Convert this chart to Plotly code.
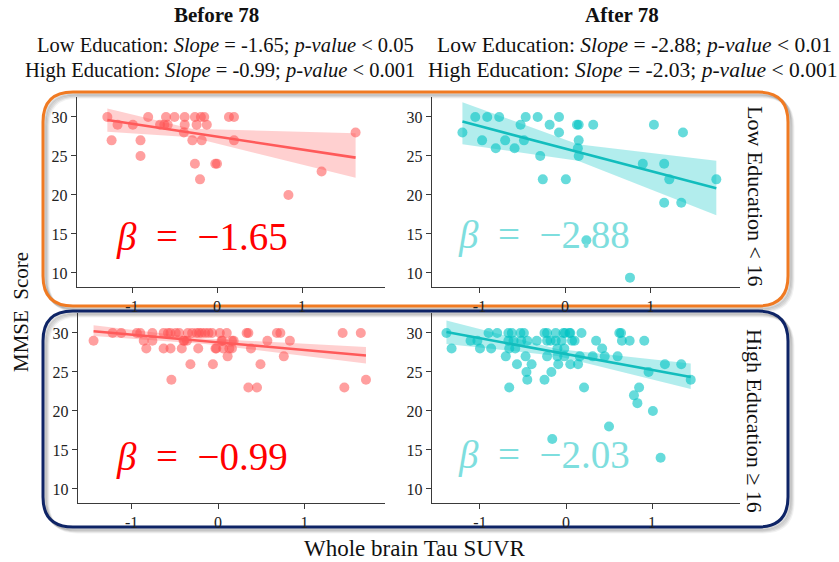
import plotly.graph_objects as go

W, H = 839, 562

# ---------------- data ----------------
# Before 78, Low Education
x_before_low = [-1.29, -1.24, -1.17, -0.99, -0.90, -0.90, -0.81, -0.67, -0.62, -0.60, -0.58, -0.50,
                -0.38, -0.38, -0.39, -0.29, -0.26, -0.24, -0.26, -0.20, -0.19, -0.18, -0.15, -0.12,
                -0.02, 0.00, 0.14, 0.20, 0.20, 0.84, 1.23, 1.63]
y_before_low = [30, 27, 29, 29, 27, 25, 30, 29, 29, 30, 29, 30,
                30, 29, 28, 27, 30, 29, 24, 22, 30, 27, 30, 29,
                24, 24, 30, 30, 27, 20, 23, 28]

# After 78, Low Education
x_after_low = [-1.20, -1.05, -0.97, -0.91, -0.81, -0.77, -0.70, -0.59, -0.52, -0.48, -0.46, -0.32,
               -0.29, -0.26, -0.18, -0.07, -0.07, 0.01, 0.14, 0.16, 0.16, 0.15, 0.16, 0.33,
               0.25, 0.76, 0.91, 1.04, 1.16, 1.16, 1.22, 1.36, 1.38, 1.77]
y_after_low = [28, 30, 27, 30, 26, 30, 27, 26, 29, 27, 30, 30,
               25, 22, 29, 28, 30, 22, 29, 29, 27, 26, 25, 29,
               14.2, 9.4, 24, 29, 24, 19, 22, 19, 28, 22]

# Before 78, High Education
x_before_high = [-1.44, -1.22, -1.12, -0.94, -0.90, -0.86, -0.83, -0.76, -0.76, -0.63, -0.63, -0.58,
                 -0.55, -0.54, -0.55, -0.49, -0.45, -0.42, -0.40, -0.39, -0.36, -0.35, -0.32, -0.30,
                 -0.25, -0.23, -0.22, -0.19, -0.15, -0.11, -0.07, -0.06, -0.03, -0.02, 0.02, 0.04,
                 0.05, 0.06, 0.10, 0.11, 0.13, 0.16, 0.16, 0.18, 0.33, 0.35, 0.35, 0.38,
                 0.45, 0.49, 0.57, 0.68, 0.72, 0.76, 0.83, 1.44, 1.46, 1.65, 1.71]
y_before_high = [29, 30, 30, 30, 30, 29, 28, 30, 29, 30, 28, 30,
                 28, 24, 30, 30, 30, 28, 29, 29, 29, 30, 26, 30,
                 30, 28, 30, 30, 30, 30, 30, 26, 28, 28, 30, 29,
                 29, 28, 30, 27, 28, 28, 29, 29, 30, 30, 23, 28,
                 23, 26, 29, 30, 30, 27, 29, 30, 23, 30, 24]

# After 78, High Education
x_after_high = [-1.39, -1.33, -1.11, -1.03, -1.00, -0.90, -0.87, -0.80, -0.70, -0.67, -0.63, -0.67,
                -0.66, -0.66, -0.61, -0.59, -0.57, -0.53, -0.49, -0.52, -0.47, -0.46, -0.45, -0.45,
                -0.40, -0.34, -0.25, -0.22, -0.25, -0.22, -0.18, -0.22, -0.17, -0.16, -0.12, -0.12,
                -0.10, -0.10, -0.09, -0.05, -0.03, -0.01, -0.02, -0.02, 0.04, 0.05, 0.05, 0.07,
                0.10, 0.14, 0.16, 0.18, 0.21, 0.31, 0.35, 0.42, 0.45, 0.50, 0.60, 0.62,
                0.64, 0.65, 0.74, 0.79, 0.83, 0.85, 0.91, 0.96, 1.01, 1.10, 1.15, 1.34, 1.45]
y_after_high = [30, 28, 29, 29, 28, 30, 28, 30, 27, 30, 30, 29,
                28, 23, 29, 28, 26, 30, 30, 29, 27, 25, 24, 29,
                26, 29, 30, 30, 24, 29, 29, 27, 25, 16.4, 30, 29,
                28, 27, 26, 29, 30, 30, 28, 27, 30, 30, 26, 29,
                29, 26, 27, 30, 23, 27, 29, 28, 27, 18, 27, 30,
                30, 29, 29, 22, 21, 23, 29, 25, 20, 14, 26, 26, 24]

# regression fits (slope from the header, intercept)
slopes = [-1.65, -2.88, -0.99, -2.03]
intercepts = [27.48, 25.95, 28.80, 27.30]
# confidence band edges read at left end, middle, right end
band_x = [[-1.29, -0.30, 1.63], [-1.20, 0.15, 1.77], [-1.44, -0.15, 1.71], [-1.39, -0.10, 1.45]]
band_hi = [[31.1, 28.5, 27.9], [31.9, 26.5, 24.4], [31.0, 29.3, 28.2], [31.6, 27.95, 26.1]]
band_lo = [[28.1, 27.4, 22.2], [26.5, 24.4, 17.4], [29.6, 28.6, 26.1], [28.6, 27.05, 22.8]]

beta_labels = ["−1.65", "−2.88", "−0.99", "−2.03"]
y_ticks = [10, 15, 20, 25, 30]
x_ticks = [-1, 0, 1]

# ---------------- styling ----------------
RED_PT = "rgba(255,80,80,0.55)"
RED_LINE = "#FF5A5A"
RED_BAND = "rgba(255,110,110,0.32)"
RED_TXT = "#FF0000"
CY_PT = "rgba(0,195,195,0.6)"
CY_LINE = "#12BDBD"
CY_BAND = "rgba(0,195,195,0.30)"
CY_TXT = "#7EDEDE"
SERIF = "Liberation Serif"


def px(x):
    return x / W


def py(y):
    return 1 - y / H


# panel geometry in pixels: (left, right, top, bottom), x range, y range
panels = [
    dict(box=(77, 385, 97, 287), xr=[-1.647, 1.976], yr=[8.2, 32.56]),
    dict(box=(432, 740, 97, 287), xr=[-1.556, 2.047], yr=[8.2, 32.56]),
    dict(box=(78, 385, 313, 503), xr=[-1.62, 1.93], yr=[8.2, 32.56]),
    dict(box=(432, 740, 313, 503), xr=[-1.558, 2.023], yr=[8.2, 32.56]),
]
data = [
    (x_before_low, y_before_low, "red"),
    (x_after_low, y_after_low, "cyan"),
    (x_before_high, y_before_high, "red"),
    (x_after_high, y_after_high, "cyan"),
]

fig = go.Figure()
layout_axes = {}
for i, (p, (xs, ys, col)) in enumerate(zip(panels, data)):
    n = i + 1
    xa = "x" if n == 1 else f"x{n}"
    ya = "y" if n == 1 else f"y{n}"
    pt = RED_PT if col == "red" else CY_PT
    ln = RED_LINE if col == "red" else CY_LINE
    bd = RED_BAND if col == "red" else CY_BAND

    bx = band_x[i]
    fig.add_trace(go.Scatter(x=bx + bx[::-1], y=band_hi[i] + band_lo[i][::-1], fill="toself",
                             fillcolor=bd, line=dict(width=0), mode="lines",
                             xaxis=xa, yaxis=ya, hoverinfo="skip", showlegend=False))
    fig.add_trace(go.Scatter(x=xs, y=ys, mode="markers",
                             marker=dict(size=10, color=pt, line=dict(width=0)),
                             xaxis=xa, yaxis=ya, showlegend=False))
    x0, x1 = min(xs), max(xs)
    fig.add_trace(go.Scatter(x=[x0, x1], y=[intercepts[i] + slopes[i] * x0, intercepts[i] + slopes[i] * x1],
                             mode="lines", line=dict(color=ln, width=2.6),
                             xaxis=xa, yaxis=ya, showlegend=False))

    l, r, t, b = p["box"]
    axis_common = dict(showgrid=False, zeroline=False, showline=True, linecolor="#3a3a3a",
                       linewidth=1.4, ticks="outside", ticklen=5, tickcolor="#3a3a3a",
                       tickwidth=1.2, tickfont=dict(family=SERIF, size=16, color="#222"))
    key_x = "xaxis" if n == 1 else f"xaxis{n}"
    key_y = "yaxis" if n == 1 else f"yaxis{n}"
    layout_axes[key_x] = dict(axis_common, domain=[px(l), px(r)], range=p["xr"], anchor=ya,
                              tickvals=x_ticks, ticktext=["-1", "0", "1"])
    layout_axes[key_y] = dict(axis_common, domain=[py(b), py(t)], range=p["yr"], anchor=xa,
                              tickvals=y_ticks)

fig.update_layout(**layout_axes)

annotations = []


def ann(text, x, y, size, color="#111", angle=0, family=SERIF, xanchor="center"):
    annotations.append(dict(text=text, x=px(x), y=py(y), xref="paper", yref="paper",
                            showarrow=False, textangle=angle, xanchor=xanchor, yanchor="middle",
                            font=dict(family=family, size=size, color=color)))


ann("<b>Before 78</b>", 216, 15, 21)
ann("<b>After 78</b>", 622, 15, 21)
ann("Low Education: <i>Slope</i> = -1.65; <i>p-value</i> &lt; 0.05", 225, 45, 20.5)
ann("High Education: <i>Slope</i> = -0.99; <i>p-value</i> &lt; 0.001", 220, 70, 20.5)
ann("Low Education: <i>Slope</i> = -2.88; <i>p-value</i> &lt; 0.01", 634, 45, 21.5)
ann("High Education: <i>Slope</i> = -2.03; <i>p-value</i> &lt; 0.001", 632, 70, 21.5)
ann("MMSE  Score", 21, 312, 21, angle=-90)
ann("Whole brain Tau SUVR", 415, 548, 23)
ann("Low Education &lt; 16", 756, 196, 22, angle=90)
ann("High Education ≥ 16", 755, 421, 22, angle=90)

beta_pos = [(202, 237), (544, 235), (202, 457), (544, 455)]
for i, (bxp, byp) in enumerate(beta_pos):
    color = RED_TXT if i % 2 == 0 else CY_TXT
    ann(f"<i>β</i>&nbsp;&nbsp;=&nbsp;&nbsp;{beta_labels[i]}", bxp, byp, 39, color=color)

fig.update_layout(annotations=annotations)


# rounded boxes with a soft shadow
def rounded(l, t, r, b, rad):
    rx, ry = rad / W, rad / H
    L, R, T, B = px(l), px(r), py(t), py(b)
    return (f"M {L + rx},{T} L {R - rx},{T} Q {R},{T} {R},{T - ry} "
            f"L {R},{B + ry} Q {R},{B} {R - rx},{B} L {L + rx},{B} Q {L},{B} {L},{B + ry} "
            f"L {L},{T - ry} Q {L},{T} {L + rx},{T} Z")


shapes = []
boxes = [((43, 92, 788, 306), "#F07A22"), ((43, 311, 788, 527), "#0E2466")]
for (l, t, r, b), c in boxes:
    for off, a in [(5, 0.05), (4, 0.07), (3, 0.09), (2, 0.11)]:
        shapes.append(dict(type="path", path=rounded(l + off, t + off, r + off, b + off, 30),
                           xref="paper", yref="paper", line=dict(color=f"rgba(0,0,0,{a})", width=3),
                           layer="below"))
    shapes.append(dict(type="path", path=rounded(l, t, r, b, 30), xref="paper", yref="paper",
                       line=dict(color=c, width=3), layer="below"))
fig.update_layout(shapes=shapes)

fig.update_layout(width=W, height=H, margin=dict(l=0, r=0, t=0, b=0),
                  paper_bgcolor="white", plot_bgcolor="rgba(0,0,0,0)")
fig.write_html("out.html")
